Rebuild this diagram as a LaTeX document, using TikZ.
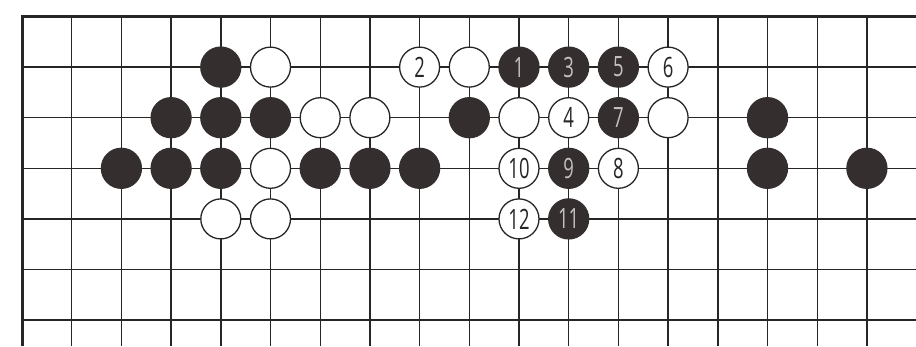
\documentclass[tikz,border=0pt]{standalone}
\usepackage{fontspec}
\newfontfamily\numfont[FakeStretch=0.66]{Open Sans}
\definecolor{stoneblack}{RGB}{52,46,46}
\begin{document}
\begin{tikzpicture}[x=49.7pt,y=-50.6pt,
  gridline/.style={line width=1.4pt,draw=black!85},
  borderline/.style={line width=3pt,draw=black!85},
  stone/.style={circle,minimum size=40pt,inner sep=0pt,line width=1.3pt,font=\numfont\fontsize{28}{28}\selectfont},
  bstone/.style={stone,fill=stoneblack,draw=stoneblack,text=white!70!stoneblack},
  wstone/.style={stone,fill=white,draw=black!85,text=black!85}]
\useasboundingbox[fill=white] (-22pt,16.5pt) rectangle (894pt,-329.5pt);
% board
\foreach \i in {1,...,17} \draw[gridline] (\i,0) -- (\i,6.52);
\foreach \j in {1,...,6} \draw[gridline] (0,\j) -- (17.99,\j);
\draw[borderline] (0,6.52) -- (0,0) -- (17.99,0);
% black stones
\foreach \x/\y [count=\k] in {4/1,3/2,4/2,5/2,9/2,15/2,2/3,3/3,4/3,6/3,7/3,8/3,15/3,17/3}
  \node[bstone] (b\k) at (\x,\y) {};
% white stones
\foreach \x/\y [count=\k] in {5/1,9/1,6/2,7/2,10/2,13/2,5/3,4/4,5/4}
  \node[wstone] (w\k) at (\x,\y) {};
% numbered moves
\node[bstone] (m1) at (10,1) {1};
\node[wstone] (m2) at (8,1) {2};
\node[bstone] (m3) at (11,1) {3};
\node[wstone] (m4) at (11,2) {4};
\node[bstone] (m5) at (12,1) {5};
\node[wstone] (m6) at (13,1) {6};
\node[bstone] (m7) at (12,2) {7};
\node[wstone] (m8) at (12,3) {8};
\node[bstone] (m9) at (11,3) {9};
\node[wstone] (m10) at (10,3) {10};
\node[bstone] (m11) at (11,4) {11};
\node[wstone] (m12) at (10,4) {12};
\end{tikzpicture}
\end{document}
